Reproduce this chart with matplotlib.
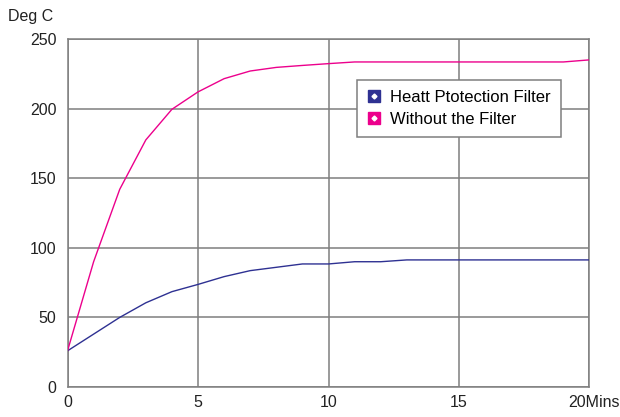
import matplotlib
matplotlib.use("Agg")
import matplotlib.pyplot as plt
from matplotlib.lines import Line2D
from matplotlib.legend_handler import HandlerTuple
from matplotlib.transforms import ScaledTranslation

minutes = list(range(0, 21))
with_filter = [26, 38, 50, 60.5, 68.5, 73.7, 79.3, 83.6, 86, 88.4, 88.4, 90, 90, 91.3, 91.3, 91.3, 91.3, 91.3, 91.3, 91.3, 91.3]
without_filter = [26, 90, 142, 177.5, 199.5, 212, 221.5, 227, 229.6, 231, 232.3, 233.5, 233.5, 233.5, 233.5, 233.5, 233.5, 233.5, 233.5, 233.5, 235]
series_names = ["Heatt Ptotection Filter", "Without the Filter"]
x_ticks = [0, 5, 10, 15, 20]
x_tick_labels = ["0", "5", "10", "15", "20Mins"]
y_ticks = [0, 50, 100, 150, 200, 250]

blue = "#2E3192"
pink = "#EC008C"
grid_c = "#7f7f7f"

plt.rcParams['font.family'] = ['Liberation Sans', 'DejaVu Sans']

fig = plt.figure(figsize=(6.2, 4.17), dpi=100)
ax = fig.add_axes([0.1089, 0.0719, 0.8419, 0.8346])

ax.plot(minutes, with_filter, color=blue, lw=1.0, zorder=3)
ax.plot(minutes, without_filter, color=pink, lw=1.0, zorder=3)

ax.set_xlim(0, 20)
ax.set_ylim(0, 250)
ax.set_xticks(x_ticks)
ax.set_xticklabels(x_tick_labels, fontsize=11.5)
ax.set_yticks(y_ticks)
ax.set_yticklabels([str(v) for v in y_ticks], fontsize=11.5)
ax.tick_params(length=0, pad=8, colors="#222222")
ax.tick_params(axis='x', pad=6)
labels = ax.get_xticklabels()
labels[-1].set_horizontalalignment('left')
labels[-1].set_transform(labels[-1].get_transform() + ScaledTranslation(-0.21, 0, fig.dpi_scale_trans))

ax.grid(True, color=grid_c, lw=1.1)
for s in ax.spines.values():
    s.set_color(grid_c)
    s.set_linewidth(1.1)

fig.text(8/620, 1 - 17/417, "Deg C", fontsize=11.5, va='center', ha='left', color="#222222")

handles = []
for c in (blue, pink):
    sq = Line2D([], [], marker='s', color=c, markersize=8.5, linestyle='None')
    dm = Line2D([], [], marker='D', color='white', markersize=2.5, linestyle='None')
    handles.append((sq, dm))
leg = ax.legend(handles, series_names, handler_map={tuple: HandlerTuple(ndivide=1, pad=0)},
                loc='upper left', bbox_to_anchor=(0.5546, 0.882), fontsize=12,
                fancybox=False, framealpha=1, edgecolor=grid_c, handlelength=0.8,
                handletextpad=0.6, borderpad=0.6, labelspacing=0.4, borderaxespad=0)
leg.get_frame().set_linewidth(1.1)
leg.set_zorder(5)

fig.savefig("out.png", dpi=100)
